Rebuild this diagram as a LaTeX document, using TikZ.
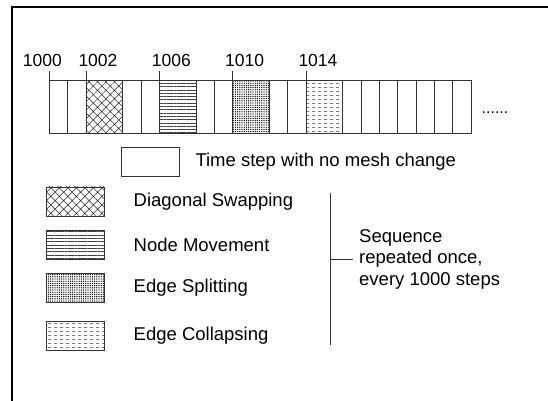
\documentclass[tikz,border=0pt]{standalone}
\usepackage{fontspec}
\setmainfont{Liberation Sans}
\usetikzlibrary{patterns, patterns.meta, positioning}

\tikzdeclarepattern{
  name=dashrows,
  type=uncolored,
  bottom left={(0pt,0pt)},
  top right={(6pt,4pt)},
  tile size={(6pt,4pt)},
  code={\draw[line width=0.5pt] (0pt,2pt) -- (3.5pt,2pt);}
}

\tikzset{
  cell/.style={draw=black!80, line width=0.6pt},
  keybox/.style={draw=black!80, line width=0.6pt, minimum width=58pt, minimum height=29pt, inner sep=0pt},
  keytext/.style={inner sep=0pt, anchor=west},
  year/.style={inner sep=0pt, anchor=base west, font=\fontsize{17.5}{20}\selectfont},
  swap/.style={pattern={Hatch[angle=45, distance=6pt, line width=0.5pt]}, pattern color=black!85},
  move/.style={pattern={Lines[angle=0, distance=3.3pt, line width=0.45pt]}, pattern color=black!75},
  split/.style={pattern={Dots[distance=2.2pt, radius=0.7pt]}},
  collapse/.style={pattern=dashrows, pattern color=black!80}
}

\begin{document}
\begin{tikzpicture}[x=1pt, y=-1pt, every node/.style={font=\fontsize{18.5}{21.5}\selectfont}]
  \useasboundingbox (0,0) rectangle (548,400);

  % frame
  \draw[line width=1.2pt] (560,7) -- (12,7) -- (12,410);

  % time strip
  \foreach \k in {0,...,23}
    \coordinate (s\k) at ({49.3+18.33*\k},80);
  \foreach \s/\p in {2/swap, 6/move, 10/split, 14/collapse}
    \path[\p] (s\s) rectangle ++(36.67,53);
  \draw[cell] (s0) rectangle ++(421.6,53);
  \foreach \k in {1,2,4,5,6,8,9,10,12,13,14,16,17,18,19,20,21,22}
    \draw[cell] (s\k) -- ++(0,53);

  % step labels
  \node[year] (y1000) at (22.7,66.7) {1000};
  \node[year] (y1002) at (78.3,66.7) {1002};
  \node[year] (y1006) at (151.7,66.7) {1006};
  \node[year] (y1010) at (225,66.7) {1010};
  \node[year] (y1014) at (298.3,66.7) {1014};
  \foreach \k in {0,2,6,10,14}
    \draw[cell] (s\k) -- ++(0,-9.5);

  \node[font=\fontsize{16}{18}\selectfont] (more) at (495,113) {......};

  % legend
  \node[keybox] (knone) at (150,161.5) {};
  \node[keytext, right=16pt of knone] (tnone) {Time step with no mesh change};

  \node[keybox, swap] (kswap) at (75.2,201.3) {};
  \node[keybox, move] (kmove) at (75.2,244.6) {};
  \node[keybox, split] (ksplit) at (75.2,288) {};
  \node[keybox, collapse] (kcollapse) at (75.2,336.2) {};

  \node[keytext, right=29pt of kswap] (tswap) {Diagonal Swapping};
  \node[keytext, right=29pt of kmove] (tmove) {Node Movement};
  \node[keytext, right=29pt of ksplit] (tsplit) {Edge Splitting};
  \node[keytext, right=29pt of kcollapse] (tcollapse) {Edge Collapsing};

  % bracket
  \coordinate (btop) at (330.7,192.7);
  \coordinate (bbot) at (330.7,345);
  \node[keytext, align=left] (seq) at (359,259) {Sequence\\repeated once,\\every 1000 steps};
  \draw[cell]
    (btop) -- (bbot)
    (btop |- seq.west) -- ([xshift=-6pt]seq.west);
\end{tikzpicture}
\end{document}
